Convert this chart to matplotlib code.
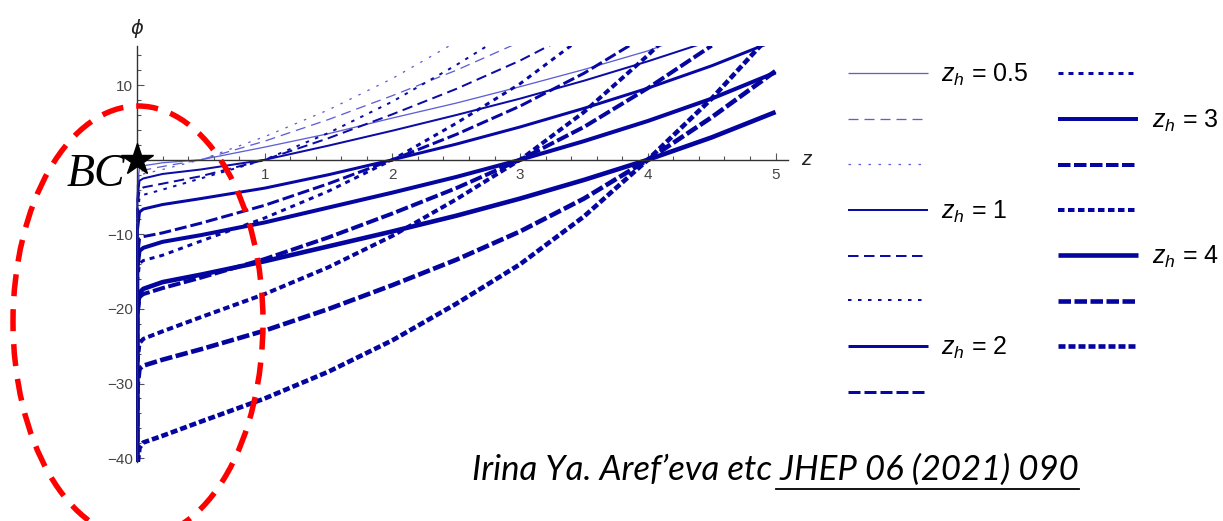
import numpy as np
import matplotlib
matplotlib.use("Agg")
import matplotlib.pyplot as plt
from matplotlib.patches import Ellipse
from matplotlib.lines import Line2D
from matplotlib.ticker import MultipleLocator

nan = np.nan

# dilaton phi(z) for several horizons z_h, three curves (solid / dashed / dotted) per z_h
z = [0, 0.003, 0.02, 0.05, 0.2, 0.5, 1, 1.5, 2, 2.5, 3, 3.5, 4, 4.5, 5]

phi_05_solid = [-60, -3.5, -1.0, -0.8, -0.4, 0, 1.7, 3.5, 5.6, 7.6, 9.8, 12.1, 14.6, 17.8, nan]
phi_05_dash = [-60, -4.2, -1.7, -1.4, -0.9, 0, 2.5, 5.4, 8.6, 12.0, 15.8, nan, nan, nan, nan]
phi_05_dot = [-60, -4.7, -2.2, -1.9, -1.3, 0, 3.1, 6.7, 10.9, 15.8, nan, nan, nan, nan, nan]

phi_1_solid = [-60, -5.3, -2.8, -2.5, -1.9, -1.3, 0, 1.9, 3.9, 6.0, 8.2, 10.6, 13.2, 16.0, nan]
phi_1_dash = [-60, -6.5, -4.0, -3.7, -3.2, -2.2, 0, 2.9, 6.1, 9.5, 13.3, 17.7, nan, nan, nan]
phi_1_dot = [-60, -7.6, -5.1, -4.7, -4.0, -2.5, 0, 3.6, 7.8, 12.7, 18.0, nan, nan, nan, nan]

phi_2_solid = [-60, -9.5, -7.0, -6.6, -6.0, -5.2, -3.8, -2.0, 0, 2.1, 4.4, 6.9, 9.6, 12.6, 16.0]
phi_2_dash = [-60, -13.1, -10.6, -10.3, -9.8, -8.5, -6.1, -3.2, 0, 3.4, 7.2, 11.6, 16.8, nan, nan]
phi_2_dot = [-60, -16.4, -13.9, -13.5, -12.8, -10.9, -7.8, -4.2, 0, 4.9, 10.2, 16.6, nan, nan, nan]

phi_3_solid = [-60, -14.7, -12.2, -11.8, -11.0, -10.1, -8.4, -6.4, -4.4, -2.3, 0, 2.5, 5.2, 8.2, 11.7]
phi_3_dash = [-60, -20.9, -18.4, -18.0, -17.2, -15.8, -13.3, -10.4, -7.2, -3.8, 0, 4.4, 9.6, 15.3, nan]
phi_3_dot = [-60, -27.1, -24.6, -24.0, -23.0, -21.1, -18.0, -14.4, -10.2, -5.3, 0, 6.4, 14.0, 22.2, nan]

phi_4_solid = [-60, -20.3, -17.8, -17.3, -16.4, -15.4, -13.6, -11.6, -9.6, -7.5, -5.2, -2.7, 0, 3.0, 6.4]
phi_4_dash = [-60, -30.5, -28.0, -27.6, -26.8, -25.4, -22.9, -20.0, -16.8, -13.4, -9.6, -5.2, 0, 5.7, 11.9]
phi_4_dot = [-60, -41.0, -38.6, -37.9, -37.0, -35.1, -32.0, -28.4, -24.2, -19.3, -14.0, -7.6, 0, 8.2, 17.5]

zh_labels = ["0.5", "1", "2", "3", "4"]
curves = [
    (phi_05_solid, phi_05_dash, phi_05_dot),
    (phi_1_solid, phi_1_dash, phi_1_dot),
    (phi_2_solid, phi_2_dash, phi_2_dot),
    (phi_3_solid, phi_3_dash, phi_3_dot),
    (phi_4_solid, phi_4_dash, phi_4_dot),
]

PX = 72 / 100  # pixels -> points at dpi 100
# per z_h: width (px), colour, dash (on, off px), dot (on, off px)
widths = [1.3, 2.0, 3.0, 4.0, 4.6]
colors = ["#5e5ed6", "#0b0ba6", "#0707a3", "#0505a0", "#04049e"]
dashes = [(10, 6), (10.5, 5.5), (12, 4), (12.5, 3.5), (12.5, 3.5)]
dots = [(2.5, 7.5), (3.5, 6.5), (5, 5), (6.5, 3.5), (7, 3)]

plt.rcParams["font.family"] = ["Liberation Sans", "DejaVu Sans"]
plt.rcParams["lines.scale_dashes"] = False
plt.rcParams["mathtext.fontset"] = "custom"
plt.rcParams["mathtext.rm"] = "Liberation Sans"
plt.rcParams["mathtext.it"] = "Liberation Sans:italic"

W, H = 1223, 521
fig = plt.figure(figsize=(W / 100, H / 100), dpi=100)
ax = fig.add_axes([0.11096, 0.11344, 0.53361, 0.79750])

handles, labels = [], []
for i, lab in enumerate(zh_labels):
    lw = widths[i] * PX
    styles = [
        "-",
        (0, tuple(v * PX for v in dashes[i])),
        (0, tuple(v * PX for v in dots[i])),
    ]
    for j in range(3):
        (ln,) = ax.plot(z, curves[i][j], color=colors[i], lw=lw, ls=styles[j],
                        solid_capstyle="butt", dash_capstyle="butt")
        handles.append(ln)
        labels.append("$z_h$ = " + lab if j == 0 else "")

ax.set_xlim(-0.01, 5.1)
ax.set_ylim(-40.5, 15.2)

for s in ["top", "right"]:
    ax.spines[s].set_visible(False)
ax.spines["left"].set_position(("data", 0))
ax.spines["bottom"].set_position(("data", 0))
for s in ["left", "bottom"]:
    ax.spines[s].set_color("#333333")
    ax.spines[s].set_linewidth(1.0)

ax.set_xticks([1, 2, 3, 4, 5])
ax.set_yticks([-40, -30, -20, -10, 10])
ax.xaxis.set_minor_locator(MultipleLocator(0.2))
ax.yaxis.set_minor_locator(MultipleLocator(2))
ax.tick_params(which="both", direction="in", colors="#555555", labelcolor="#444444",
               labelsize=11, width=0.8)
ax.tick_params(which="major", length=5)
ax.tick_params(which="minor", length=3)
ax.tick_params(axis="x", pad=6)
ax.tick_params(axis="y", pad=3)

ax.text(0, 1.02, "\u03d5", transform=ax.get_xaxis_transform(), ha="center", va="bottom",
        fontsize=14, family="DejaVu Sans", style="italic", color="#222222")
ax.text(1.02, 0, "z", transform=ax.get_yaxis_transform(), ha="left", va="center",
        fontsize=15, style="italic", color="#222222")

# boundary-condition marker at the origin
ax.plot([0], [0], marker="*", ms=24, color="black", clip_on=False, zorder=10)
fig.text(67 / W, 1 - 175 / H, "BC", fontsize=33, family="Liberation Serif", style="italic",
         ha="left", va="center")

fig.legend(handles, labels, ncol=2, loc="upper left", bbox_to_anchor=(848 / W, 1 - 62 / H),
           frameon=False, fontsize=18, handlelength=3.2, handletextpad=0.53,
           labelspacing=0.83, columnspacing=1.2, borderpad=0, borderaxespad=0)

# red dashed ellipse around the small-z region
ell = Ellipse((138 / W, 1 - 322 / H), 250 / W, 432 / H, transform=fig.transFigure,
              fill=False, edgecolor="red", lw=5.5 * PX, ls=(0, (22 * PX, 13 * PX)),
              clip_on=False, zorder=20)
fig.add_artist(ell)

# reference line
t1 = fig.text(472 / W, 1 - 480 / H, "Irina Ya. Aref\u2019eva etc", fontsize=25,
              family="Lato", style="italic", ha="left", va="baseline")
fig.canvas.draw()
bb = t1.get_window_extent()
t2 = fig.text(bb.x1 / W, 1 - 480 / H, " JHEP 06 (2021) 090", fontsize=25,
              family="Lato", style="italic", ha="left", va="baseline")
fig.canvas.draw()
bb2 = t2.get_window_extent()
uy = (H - 489) / H
fig.add_artist(Line2D([(bb2.x0 + 4) / W, bb2.x1 / W], [uy, uy], color="black", lw=1.3,
                      transform=fig.transFigure))

fig.savefig("out.png", dpi=100)
